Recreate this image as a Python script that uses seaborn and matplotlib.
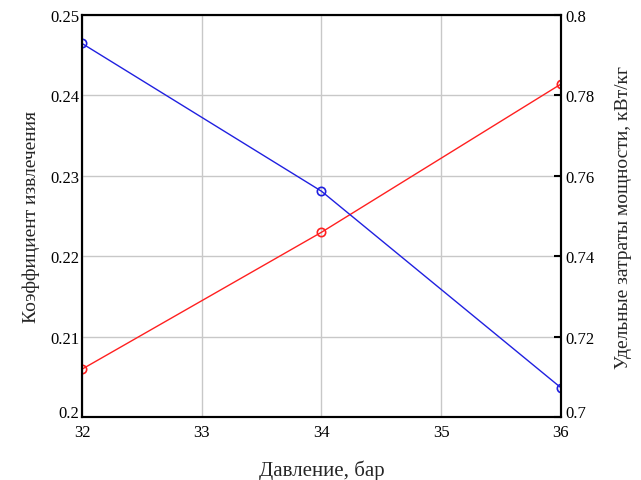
import matplotlib
matplotlib.use("Agg")
import matplotlib.pyplot as plt
import seaborn as sns
import pandas as pd

pressure = [32, 34, 36]
coef_extraction = [0.206, 0.223, 0.2414]
specific_power = [0.7929, 0.7562, 0.7074]

x_ticks = [32, 33, 34, 35, 36]
left_ticks = [0.2, 0.21, 0.22, 0.23, 0.24, 0.25]
right_ticks = [0.7, 0.72, 0.74, 0.76, 0.78, 0.8]

sns.set_style("white")
plt.rcParams['font.family'] = ['Liberation Serif', 'DejaVu Serif']

df = pd.DataFrame({"p": pressure, "k": coef_extraction, "w": specific_power})

fig = plt.figure(figsize=(6.41, 4.81), dpi=100)
ax = fig.add_axes([0.128, 0.130, 0.747, 0.837])
ax2 = ax.twinx()

sns.lineplot(data=df, x="p", y="k", ax=ax, color="#ff2020", lw=1.0,
             marker="o", markersize=6, markerfacecolor="none",
             markeredgecolor="#ff2020", markeredgewidth=1.2)
sns.lineplot(data=df, x="p", y="w", ax=ax2, color="#2020e0", lw=1.0,
             marker="o", markersize=6, markerfacecolor="none",
             markeredgecolor="#2020e0", markeredgewidth=1.2)

ax.set_xlim(32, 36)
ax.set_ylim(0.2, 0.25)
ax2.set_ylim(0.7, 0.8)
ax.set_xticks(x_ticks)
ax.set_xticklabels([str(t) for t in x_ticks])
ax.set_yticks(left_ticks)
ax.set_yticklabels(["0.2", "0.21", "0.22", "0.23", "0.24", "0.25"])
ax2.set_yticks(right_ticks)
ax2.set_yticklabels(["0.7", "0.72", "0.74", "0.76", "0.78", "0.8"])

ax.grid(True, color="#c8c8c8", lw=1.0)
ax2.grid(False)

ax.tick_params(axis="y", labelsize=12, length=0, pad=2, colors="black")
ax.tick_params(axis="x", labelsize=12, length=0, pad=5, colors="black")
ax2.tick_params(axis="y", labelsize=12, direction="in", length=5, width=1.5,
                pad=3, colors="black")

# lift the bottom-corner labels so they sit above the x tick labels
ax.get_yticklabels()[0].set_verticalalignment("baseline")
ax2.get_yticklabels()[0].set_verticalalignment("baseline")

for a in (ax, ax2):
    for s in a.spines.values():
        s.set_color("black")
        s.set_linewidth(1.5)
        s.set_visible(True)

ax.set_xlabel("Давление, бар", fontsize=15, labelpad=14)
ax.set_ylabel("Коэффициент извлечения", fontsize=14, labelpad=7)
ax2.set_ylabel("Удельные затраты мощности, кВт/кг", fontsize=14, labelpad=15)

fig.savefig("out.png", dpi=100, facecolor="white")
